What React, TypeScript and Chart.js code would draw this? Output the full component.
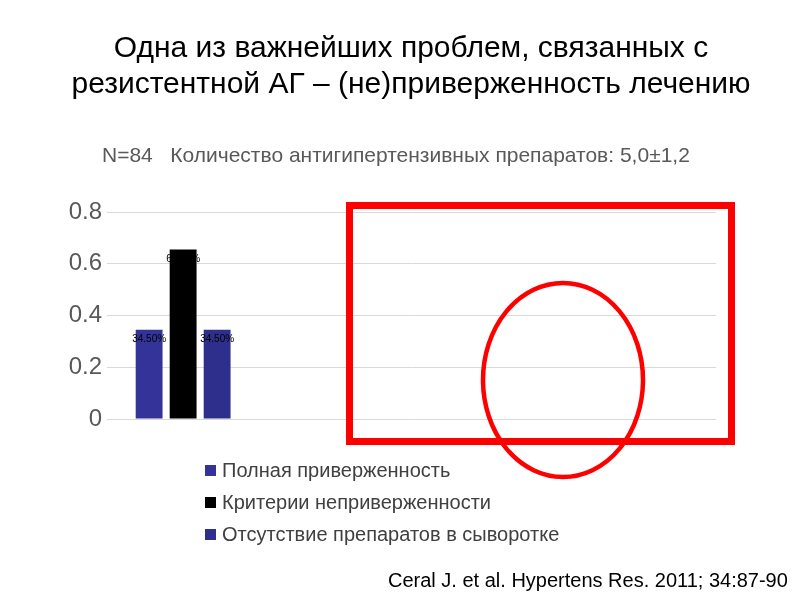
import React, { useEffect, useRef } from "react";
import { Chart, registerables } from "chart.js";

Chart.register(...registerables);

const categories = ["", "", "", ""];
const fullAdherence = [0.345, null, null, null];
const nonAdherenceCriteria = [0.655, null, null, null];
const noDrugsInSerum = [0.345, null, null, null];
const yTicks = [0, 0.2, 0.4, 0.6, 0.8];

const seriesNames = [
    "Полная приверженность",
    "Критерии неприверженности",
    "Отсутствие препаратов в сыворотке",
];
const seriesColors = ["#333399", "#000000", "#2e2e8c"];

const titleLines = [
    "Одна из важнейших проблем, связанных с",
    "резистентной АГ – (не)приверженность лечению",
];
const subtitle = "N=84   Количество антигипертензивных препаратов: 5,0±1,2";
const citation = "Ceral J. et al. Hypertens Res. 2011; 34:87-90";

const barLabels = {
    id: "barLabels",
    afterDatasetsDraw(chart: any) {
        const ctx = chart.ctx;
        ctx.save();
        ctx.font = "10px 'Liberation Sans', Arial, sans-serif";
        ctx.fillStyle = "#000";
        ctx.textAlign = "center";
        ctx.textBaseline = "middle";
        chart.data.datasets.forEach((ds: any, i: number) => {
            const meta = chart.getDatasetMeta(i);
            meta.data.forEach((bar: any, j: number) => {
                const v = ds.data[j];
                if (v == null) return;
                ctx.fillText((v * 100).toFixed(2) + "%", bar.x, bar.y + 10);
            });
        });
        ctx.restore();
    },
};

export default function App() {
    const canvasRef = useRef<HTMLCanvasElement | null>(null);

    useEffect(() => {
        if (!canvasRef.current) return;

        const chart = new Chart(canvasRef.current, {
            type: "bar",
            data: {
                labels: categories,
                datasets: [fullAdherence, nonAdherenceCriteria, noDrugsInSerum].map((d, i) => ({
                    label: seriesNames[i],
                    data: d,
                    backgroundColor: seriesColors[i],
                    categoryPercentage: 0.67,
                    barPercentage: 0.79,
                })),
            },
            options: {
                responsive: false,
                animation: false,
                layout: {
                    padding: { top: 212, bottom: 181, left: 0, right: 84 },
                },
                plugins: {
                    legend: { display: false },
                    tooltip: { enabled: false },
                },
                scales: {
                    x: { display: false },
                    y: {
                        min: 0,
                        max: 0.8,
                        afterFit: (scale: any) => {
                            scale.width = 107;
                        },
                        afterBuildTicks: (scale: any) => {
                            scale.ticks = yTicks.map((v) => ({ value: v }));
                        },
                        border: { display: false },
                        grid: { color: "#d9d9d9", drawTicks: false, lineWidth: 1 },
                        ticks: {
                            padding: 5,
                            color: "#595959",
                            font: { size: 24, family: "'Liberation Sans', Arial, sans-serif" },
                            callback: (v: any) => String(v),
                        },
                    },
                },
            },
            plugins: [barLabels],
        });

        return () => chart.destroy();
    }, []);

    const text = "'Liberation Sans', Arial, sans-serif";

    return (
        <div
            style={{
                position: "fixed",
                left: 0,
                top: 0,
                width: 800,
                height: 600,
                background: "#fff",
                fontFamily: text,
                overflow: "hidden",
            }}
        >
            <canvas ref={canvasRef} width={800} height={600} style={{ position: "absolute", left: 0, top: 0 }} />
            <div
                style={{
                    position: "absolute",
                    left: 0,
                    top: 29,
                    width: 822,
                    textAlign: "center",
                    fontSize: 30,
                    lineHeight: "36px",
                    color: "#000",
                }}
            >
                {titleLines.map((l) => (
                    <div key={l}>{l}</div>
                ))}
            </div>
            <div
                style={{
                    position: "absolute",
                    left: 102,
                    top: 142,
                    fontSize: 21,
                    lineHeight: "26px",
                    color: "#595959",
                    whiteSpace: "pre",
                }}
            >
                {subtitle}
            </div>
            <div style={{ position: "absolute", left: 205, top: 454 }}>
                {seriesNames.map((name, i) => (
                    <div key={name} style={{ display: "flex", alignItems: "center", height: 32 }}>
                        <span
                            style={{
                                width: 11,
                                height: 11,
                                background: seriesColors[i],
                                marginRight: 6,
                                display: "inline-block",
                            }}
                        />
                        <span style={{ fontSize: 20, color: "#404040", whiteSpace: "nowrap" }}>{name}</span>
                    </div>
                ))}
            </div>
            <div
                style={{
                    position: "absolute",
                    left: 388,
                    top: 567,
                    fontSize: 20,
                    lineHeight: "26px",
                    color: "#000",
                    whiteSpace: "nowrap",
                }}
            >
                {citation}
            </div>
            <svg width={800} height={600} style={{ position: "absolute", left: 0, top: 0 }}>
                <rect x={349.5} y={205.5} width={382} height={236} fill="none" stroke="#ff0000" strokeWidth={7} />
                <ellipse cx={563} cy={380} rx={80} ry={97} fill="none" stroke="#ff0000" strokeWidth={4.5} />
            </svg>
        </div>
    );
}
